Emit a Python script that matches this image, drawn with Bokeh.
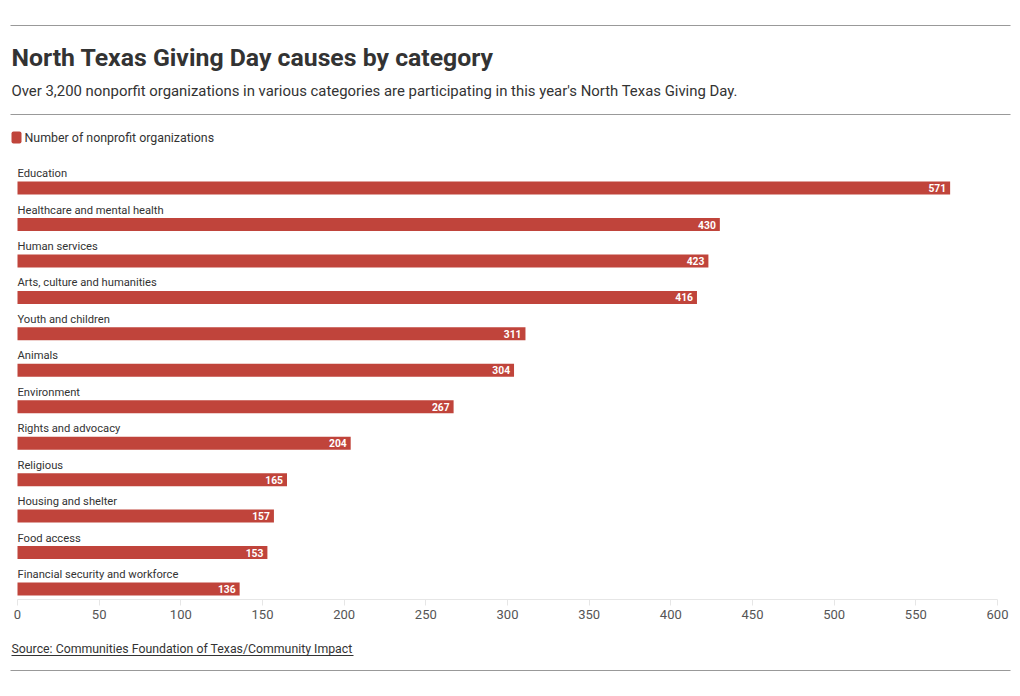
from bokeh.plotting import figure
from bokeh.models import Range1d, ColumnDataSource, FixedTicker
from bokeh.layouts import column
from bokeh.core.properties import value
from bokeh.embed import file_html
from bokeh.resources import INLINE

# ---- data ----
categories = ["Education", "Healthcare and mental health", "Human services",
              "Arts, culture and humanities", "Youth and children", "Animals",
              "Environment", "Rights and advocacy", "Religious",
              "Housing and shelter", "Food access", "Financial security and workforce"]
counts = [571, 430, 423, 416, 311, 304, 267, 204, 165, 157, 153, 136]
x_ticks = [0, 50, 100, 150, 200, 250, 300, 350, 400, 450, 500, 550, 600]

title_text = "North Texas Giving Day causes by category"
subtitle_text = ("Over 3,200 nonporfit organizations in various categories are "
                 "participating in this year's North Texas Giving Day.")
legend_text = "Number of nonprofit organizations"
source_text = "Source: Communities Foundation of Texas/Community Impact"

FONT = "Roboto"
BAR = "#c0443b"
DARK = "#333333"
RULE = "#999999"
W = 1016

def blank(fig):
    fig.axis.visible = False
    fig.grid.visible = False
    fig.outline_line_color = None
    fig.background_fill_color = None
    fig.border_fill_color = None
    return fig

# ---- header ----
HH = 150
head = figure(width=W, height=HH, x_range=Range1d(0, W), y_range=Range1d(HH, 0),
              toolbar_location=None, output_backend="svg", min_border=0)
blank(head)
head.segment(x0=[10, 10], y0=[25, 114], x1=[1010, 1010], y1=[25, 114],
             line_color=RULE, line_width=1)
head.text(x=[11], y=[56.5], text=[title_text], text_font=value(FONT),
          text_font_style="bold", text_font_size="24.8px", text_color=DARK,
          text_baseline="middle")
head.text(x=[11], y=[90], text=[subtitle_text], text_font=value(FONT),
          text_font_size="14.9px", text_color=DARK, text_baseline="middle")
head.quad(left=[11], right=[21], top=[131], bottom=[143], fill_color=BAR,
          line_color=None, border_radius=2)
head.text(x=[24], y=[137], text=[legend_text], text_font=value(FONT),
          text_font_size="12.4px", text_color=DARK, text_baseline="middle")

# ---- main chart ----
ypos = list(range(len(categories) - 1, -1, -1))
src = ColumnDataSource(dict(cat=categories, n=counts, y=ypos,
                            lbl=[str(c) for c in counts]))

# frame spans full width; range chosen so 0 -> x=17 px and 600 -> x=997 px
px_per_unit = 980 / 600
x_start = -17 / px_per_unit
x_end = x_start + W / px_per_unit

p = figure(width=W, height=484, x_range=Range1d(x_start, x_end),
           y_range=Range1d(-0.288, 11.893), toolbar_location=None,
           output_backend="svg", y_axis_location=None,
           min_border_left=0, min_border_right=0, min_border_top=5,
           min_border_bottom=35)
p.grid.visible = False
p.outline_line_color = None
p.hbar(y="y", right="n", left=0, height=0.357, source=src,
       fill_color=BAR, line_color=None)
p.text(x=0, y="y", text="cat", source=src, y_offset=-14.5, x_offset=0,
       text_font=value(FONT), text_font_size="11.2px", text_color=DARK,
       text_baseline="middle")
p.text(x="n", y="y", text="lbl", source=src, x_offset=-4, y_offset=0,
       text_font=value(FONT), text_font_size="10.3px", text_font_style="bold",
       text_color="white", text_align="right", text_baseline="middle")

ax = p.xaxis[0]
ax.ticker = FixedTicker(ticks=x_ticks)
ax.bounds = (0, 600)
ax.axis_line_color = "#e6e6e6"
ax.major_tick_line_color = "#e6e6e6"
ax.major_tick_out = 6
ax.major_tick_in = 0
ax.minor_tick_line_color = None
ax.major_label_text_font = FONT
ax.major_label_text_font_size = "13px"
ax.major_label_text_color = "#555555"
ax.major_label_standoff = 4

# ---- footer ----
FH = 46
foot = figure(width=W, height=FH, x_range=Range1d(0, W), y_range=Range1d(FH, 0),
              toolbar_location=None, output_backend="svg", min_border=0)
blank(foot)
foot.text(x=[11], y=[14], text=[source_text], text_font=value(FONT),
          text_font_size="12.3px", text_color=DARK, text_baseline="middle")
foot.segment(x0=[11], y0=[21], x1=[353], y1=[21], line_color=DARK, line_width=1)
foot.segment(x0=[10], y0=[36], x1=[1010], y1=[36], line_color=RULE, line_width=1)

layout = column(head, p, foot, spacing=0)
open("out.html", "w").write(file_html(layout, INLINE))
